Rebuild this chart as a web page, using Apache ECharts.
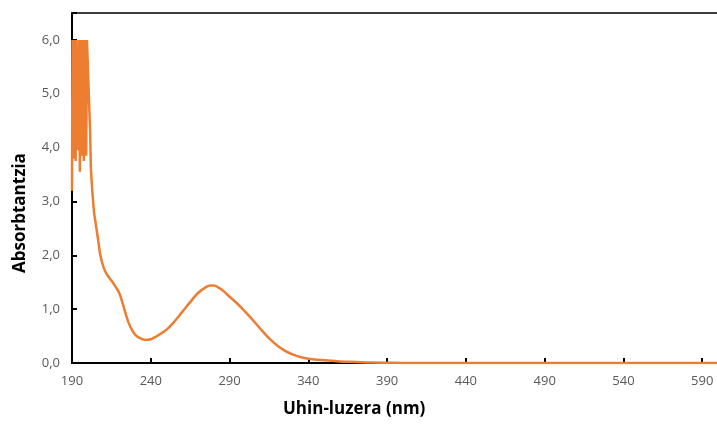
<!DOCTYPE html>
<html>
<head>
<meta charset="utf-8">
<script src="https://cdn.jsdelivr.net/npm/echarts@6/dist/echarts.min.js"></script>
<style>
  html, body { margin: 0; padding: 0; background: #fff; }
  #chart { width: 717px; height: 425px; }
</style>
</head>
<body>
<div id="chart"></div>
<script>
// saturated / noisy region below ~202 nm
const noiseNm = [190.0, 190.3, 190.8, 191.3, 191.8, 192.3, 192.8, 193.5, 194.0, 194.5, 195.0, 195.5, 196.0, 196.5, 197.0, 197.5, 198.0, 198.5, 199.0, 199.5, 200.4, 200.8, 201.5, 202.0]
const noiseAbs = [3.2, 6.0, 3.8, 6.0, 6.0, 3.75, 6.0, 6.0, 3.95, 6.0, 3.55, 6.0, 6.0, 3.85, 6.0, 3.75, 6.0, 6.0, 3.85, 6.0, 6.0, 4.87, 4.3, 3.6]

// smooth part of the spectrum
const bandNm = [202, 203, 204, 205, 206, 207, 208, 210, 212, 214, 216, 218, 220, 222, 224, 226, 228, 230, 232, 234, 236, 238, 240, 242, 245, 250, 255, 260, 265, 270, 275, 278, 280, 283, 286, 290, 295, 300, 305, 310, 315, 320, 325, 330, 335, 340, 350, 360, 370, 380, 390, 400, 450, 500, 550, 600]
const bandAbs = [3.6, 3.15, 2.8, 2.6, 2.4, 2.2, 2.0, 1.78, 1.65, 1.57, 1.49, 1.40, 1.30, 1.12, 0.92, 0.74, 0.62, 0.53, 0.48, 0.45, 0.43, 0.43, 0.44, 0.47, 0.52, 0.62, 0.77, 0.95, 1.13, 1.30, 1.41, 1.44, 1.44, 1.40, 1.34, 1.23, 1.10, 0.95, 0.79, 0.62, 0.46, 0.33, 0.23, 0.16, 0.11, 0.08, 0.05, 0.03, 0.02, 0.01, 0.005, 0, 0, 0, 0, 0]

const xTitle = 'Uhin-luzera (nm)'
const yTitle = 'Absorbtantzia'

const lineColor = '#ED7D31'
const font = 'Open Sans'

const chart = echarts.init(document.getElementById('chart'))
chart.setOption({
  animation: false,
  grid: { left: 72, right: -1, top: 13, bottom: 62, outerBoundsMode: 'none' },
  xAxis: [
    {
      type: 'value',
      min: 190,
      max: 600,
      interval: 50,
      axisLine: { lineStyle: { color: '#000', width: 2 } },
      axisTick: { show: true, inside: true, length: 5, lineStyle: { color: '#000', width: 2 } },
      axisLabel: {
        margin: 12, color: '#595959', fontSize: 13, fontFamily: font,
        formatter: v => (v > 590 ? '' : String(v))
      },
      splitLine: { show: false }
    },
    {
      // top frame line only
      type: 'value',
      position: 'top',
      min: 190,
      max: 600,
      axisLine: { show: true, lineStyle: { color: '#000', width: 1.5 } },
      axisTick: { show: false },
      axisLabel: { show: false },
      splitLine: { show: false }
    }
  ],
  yAxis: {
    type: 'value',
    min: 0,
    max: 6.5,
    interval: 1,
    axisLine: { show: true, lineStyle: { color: '#000', width: 2 } },
    axisTick: { show: true, inside: true, length: 5, lineStyle: { color: '#000', width: 2 } },
    axisLabel: {
      margin: 12, color: '#595959', fontSize: 13, fontFamily: font,
      formatter: v => (Number.isInteger(v) ? v.toFixed(1).replace('.', ',') : '')
    },
    splitLine: { show: false }
  },
  graphic: [
    {
      type: 'text', left: 283, top: 401,
      style: { text: xTitle, fill: '#000', font: 'bold 17px "Open Sans"' }
    },
    {
      type: 'text', x: 12, y: 273, rotation: Math.PI / 2,
      style: { text: yTitle, fill: '#000', font: 'bold 17px "Open Sans"' }
    }
  ],
  series: [
    {
      type: 'line',
      data: noiseNm.map((x, i) => [x, noiseAbs[i]]),
      showSymbol: false,
      lineStyle: { color: lineColor, width: 2.5 },
      z: 3
    },
    {
      type: 'line',
      data: bandNm.map((x, i) => [x, bandAbs[i]]),
      smooth: 0.4,
      showSymbol: false,
      lineStyle: { color: lineColor, width: 2.5 },
      z: 3
    }
  ]
})
</script>
</body>
</html>
